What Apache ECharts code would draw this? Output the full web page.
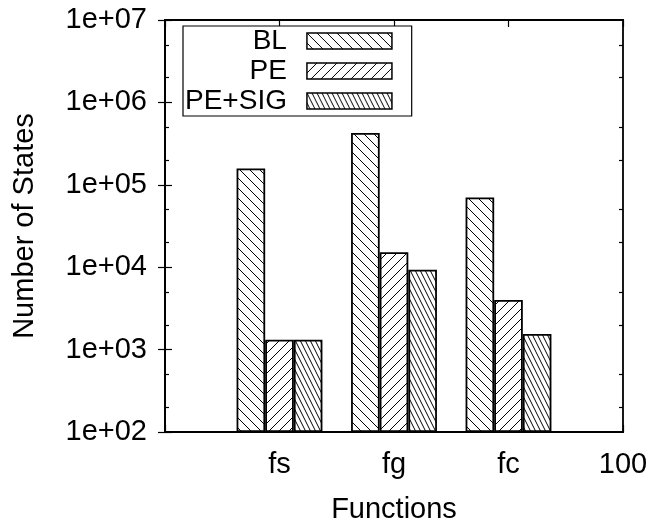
<!DOCTYPE html>
<html>
<head>
<meta charset="utf-8">
<script src="https://cdn.jsdelivr.net/npm/echarts@6/dist/echarts.min.js"></script>
<style>
html, body { margin: 0; padding: 0; background: #fff; }
#chart { width: 650px; height: 525px; }
</style>
</head>
<body>
<div id="chart"></div>
<script>
// Functions on the x axis (placed at x = 1, 2, 3) and the labels of every x tick
const functions = ['fs', 'fg', 'fc'];
const xTickLabels = ['', 'fs', 'fg', 'fc', '100'];

// Number of explored states per function
const seriesNames = ['BL', 'PE', 'PE+SIG'];
const blStates = [158000, 425000, 70000];
const peStates = [1320, 15200, 4000];
const peSigStates = [1320, 9300, 1550];

// Log axis range (decades)
const yMin = 1e2;
const yMax = 1e7;

const FONT = 'Liberation Sans, Arial, sans-serif';
const FS = 29;
const LEGEND_FS = 28;

// Minor tick positions (2x and 5x of each decade), in log10 units
const minorTicks = [];
for (let d = Math.log10(yMin); d < Math.log10(yMax); d++) {
  minorTicks.push(d + Math.log10(2), d + Math.log10(5));
}

// Diagonal hatch fill built on a small tile canvas
function hatch(w, h, ascending) {
  const c = document.createElement('canvas');
  c.width = w; c.height = h;
  const ctx = c.getContext('2d');
  ctx.fillStyle = '#fff';
  ctx.fillRect(0, 0, w, h);
  ctx.strokeStyle = '#000';
  ctx.lineWidth = 1;
  ctx.beginPath();
  for (let k = -1; k <= 1; k++) {
    if (ascending) { ctx.moveTo(k * w, h); ctx.lineTo(k * w + w, 0); }
    else { ctx.moveTo(k * w, 0); ctx.lineTo(k * w + w, h); }
  }
  ctx.stroke();
  return { image: c, repeat: 'repeat' };
}

const fills = [hatch(10, 10, false), hatch(10, 10, true), hatch(5, 10, false)];
const values = [blStates, peStates, peSigStates];

function toPoints(vals) {
  return vals.map((v, i) => [xTickLabels.indexOf(functions[i]), v]);
}

const chart = echarts.init(document.getElementById('chart'), null, { renderer: 'canvas' });

const textBase = { color: '#000', fontFamily: FONT, fontSize: FS };

const option = {
  animation: false,
  backgroundColor: '#fff',
  textStyle: textBase,
  grid: {
    left: 165, top: 20, right: 27, bottom: 93,
    outerBoundsMode: 'none',
    containLabel: false,
    show: true, borderColor: '#000', borderWidth: 1.8, backgroundColor: 'transparent'
  },
  legend: {
    data: seriesNames,
    orient: 'vertical',
    align: 'right',
    left: 183, top: 26,
    itemWidth: 85, itemHeight: 16, itemGap: 2,
    icon: 'rect',
    padding: [1, 19, 1, 2],
    borderColor: '#000', borderWidth: 1.2,
    backgroundColor: '#fff',
    itemStyle: { borderColor: '#000', borderWidth: 1.5 },
    textStyle: { color: '#000', fontFamily: FONT, fontSize: LEGEND_FS, lineHeight: 28, padding: [0, 15, 0, 0] },
    selectedMode: false
  },
  xAxis: [
    {
      type: 'value', min: 0, max: 4, interval: 1,
      position: 'bottom',
      name: 'Functions', nameLocation: 'middle', nameGap: 63,
      nameTextStyle: textBase,
      axisLine: { show: true, lineStyle: { color: '#000', width: 1.8 } },
      axisTick: { show: true, inside: true, length: 7, lineStyle: { color: '#000', width: 1.2 } },
      axisLabel: {
        show: true, margin: 18, color: '#000', fontFamily: FONT, fontSize: FS,
        formatter: v => xTickLabels[Math.round(v)] || ''
      },
      splitLine: { show: false }
    },
    {
      type: 'value', min: 0, max: 4, interval: 1,
      position: 'top',
      axisLine: { show: true, lineStyle: { color: '#000', width: 1.8 } },
      axisTick: { show: true, inside: true, length: 7, lineStyle: { color: '#000', width: 1.2 } },
      axisLabel: { show: false },
      splitLine: { show: false }
    }
  ],
  yAxis: [
    {
      type: 'log', logBase: 10, min: yMin, max: yMax, startValue: yMin,
      position: 'left',
      name: 'Number of States', nameLocation: 'middle', nameGap: 126, nameRotate: 90,
      nameTextStyle: textBase,
      axisLine: { show: true, lineStyle: { color: '#000', width: 1.8 } },
      axisTick: { show: true, inside: true, length: 7, lineStyle: { color: '#000', width: 1.2 } },
      axisLabel: {
        show: true, margin: 18, color: '#000', fontFamily: FONT, fontSize: FS,
        formatter: v => {
          const e = Math.round(Math.log10(v));
          return '1e+' + (e < 10 ? '0' : '') + e;
        }
      },
      splitLine: { show: false }
    },
    {
      type: 'log', logBase: 10, min: yMin, max: yMax,
      position: 'right',
      axisLine: { show: true, lineStyle: { color: '#000', width: 1.8 } },
      axisTick: { show: true, inside: true, length: 7, lineStyle: { color: '#000', width: 1.2 } },
      axisLabel: { show: false },
      splitLine: { show: false }
    },
    {
      type: 'value', min: Math.log10(yMin), max: Math.log10(yMax),
      position: 'left',
      axisLine: { show: false },
      axisTick: { show: true, inside: true, length: 4, customValues: minorTicks, lineStyle: { color: '#000', width: 1.2 } },
      axisLabel: { show: false, customValues: minorTicks },
      splitLine: { show: false }
    },
    {
      type: 'value', min: Math.log10(yMin), max: Math.log10(yMax),
      position: 'right',
      axisLine: { show: false },
      axisTick: { show: true, inside: true, length: 4, customValues: minorTicks, lineStyle: { color: '#000', width: 1.2 } },
      axisLabel: { show: false, customValues: minorTicks },
      splitLine: { show: false }
    }
  ],
  series: seriesNames.map((name, s) => ({
    name: name,
    type: 'bar',
    xAxisIndex: 0,
    yAxisIndex: 0,
    data: toPoints(values[s]),
    barWidth: '25%',
    barGap: '0%',
    clip: true,
    itemStyle: { color: fills[s], borderColor: '#000', borderWidth: 1.8 },
    emphasis: { disabled: true }
  }))
};

chart.setOption(option);
</script>
</body>
</html>
